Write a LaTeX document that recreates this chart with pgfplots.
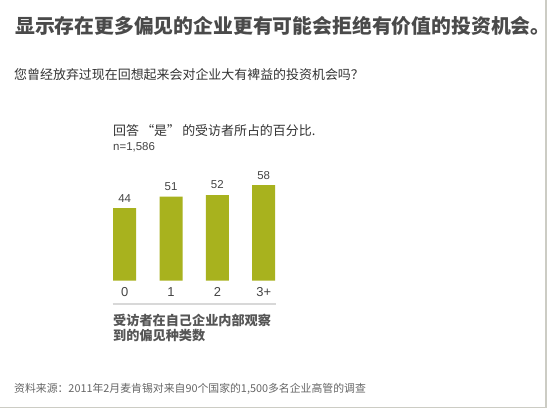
\documentclass[border=0pt]{standalone}
\usepackage{pgfplots}
\pgfplotsset{compat=1.18}
\usepackage{fontspec}
\setmainfont{Liberation Sans}
\newfontfamily\cjk{Noto Sans CJK SC}

\definecolor{barolive}{RGB}{168,178,30}
\definecolor{titlegray}{RGB}{74,74,74}
\definecolor{textgray}{RGB}{51,51,51}
\definecolor{labelgray}{RGB}{68,68,68}
\definecolor{axtitlegray}{RGB}{85,85,85}
\definecolor{sourcegray}{RGB}{102,102,102}
\definecolor{rulegray}{RGB}{216,216,216}
\definecolor{framegray}{RGB}{204,204,196}

\begin{document}
\begin{tikzpicture}[x=1bp,y=1bp]
  \path[use as bounding box, fill=white] (0,0) rectangle (550,409);
  % frame at right and bottom
  \draw[framegray, line width=1.2bp] (0,1.3) -- (546,1.3) -- (546,409);

  % titles
  \node[anchor=west, inner sep=0, text=titlegray,
        font=\cjk\bfseries\fontsize{19.9}{24}\selectfont] at (15,383.5)
    {显示存在更多偏见的企业更有可能会拒绝有价值的投资机会。};
  \node[anchor=west, inner sep=0, text=textgray,
        font=\cjk\fontsize{13}{16}\selectfont] at (14,334)
    {您曾经放弃过现在回想起来会对企业大有裨益的投资机会吗？};
  \node[anchor=west, inner sep=0, text=textgray,
        font=\cjk\fontsize{13}{16}\selectfont] at (113,278)
    {回答\,“是”\,的受访者所占的百分比.};
  \node[anchor=west, inner sep=0, text=labelgray,
        font=\fontsize{11.5}{14}\selectfont] at (113,262)
    {n=1,586};

  \begin{axis}[
      at={(101.55bp,128.3bp)},
      anchor=south west,
      scale only axis,
      width=185.3bp,
      height=115.3bp,
      ymin=0, ymax=70,
      xmin=-0.5, xmax=3.5,
      ybar,
      bar width=23bp,
      hide y axis,
      axis x line*=bottom,
      x axis line style={draw=none},
      major tick length=0,
      xtick=data,
      xticklabels={0,1,2,3+},
      xticklabel style={anchor=center, yshift=-11bp, text=labelgray,
                        font=\fontsize{13}{15}\selectfont},
      nodes near coords,
      nodes near coords style={anchor=center, yshift=10bp, text=labelgray,
                               font=\fontsize{11.5}{14}\selectfont},
      /pgf/number format/assume math mode=true,
      clip=false,
    ]
    \addplot[fill=barolive, draw=none]
    coordinates {(0,44) (1,51) (2,52) (3,58)};
  \end{axis}

  % rule under the tick labels
  \draw[rulegray, line width=2bp] (112.7,105.5) -- (276,105.5);

  % axis title
  \node[anchor=west, inner sep=0, text=axtitlegray,
        font=\cjk\bfseries\fontsize{13.2}{16}\selectfont] at (113,89)
    {受访者在自己企业内部观察};
  \node[anchor=west, inner sep=0, text=axtitlegray,
        font=\cjk\bfseries\fontsize{13.2}{16}\selectfont] at (113,73.3)
    {到的偏见种类数};

  % source
  \node[anchor=west, inner sep=0, text=sourcegray,
        font=\cjk\fontsize{10.9}{13}\selectfont] at (14,19.7)
    {资料来源：2011年2月麦肯锡对来自90个国家的1,500多名企业高管的调查};
\end{tikzpicture}
\end{document}
